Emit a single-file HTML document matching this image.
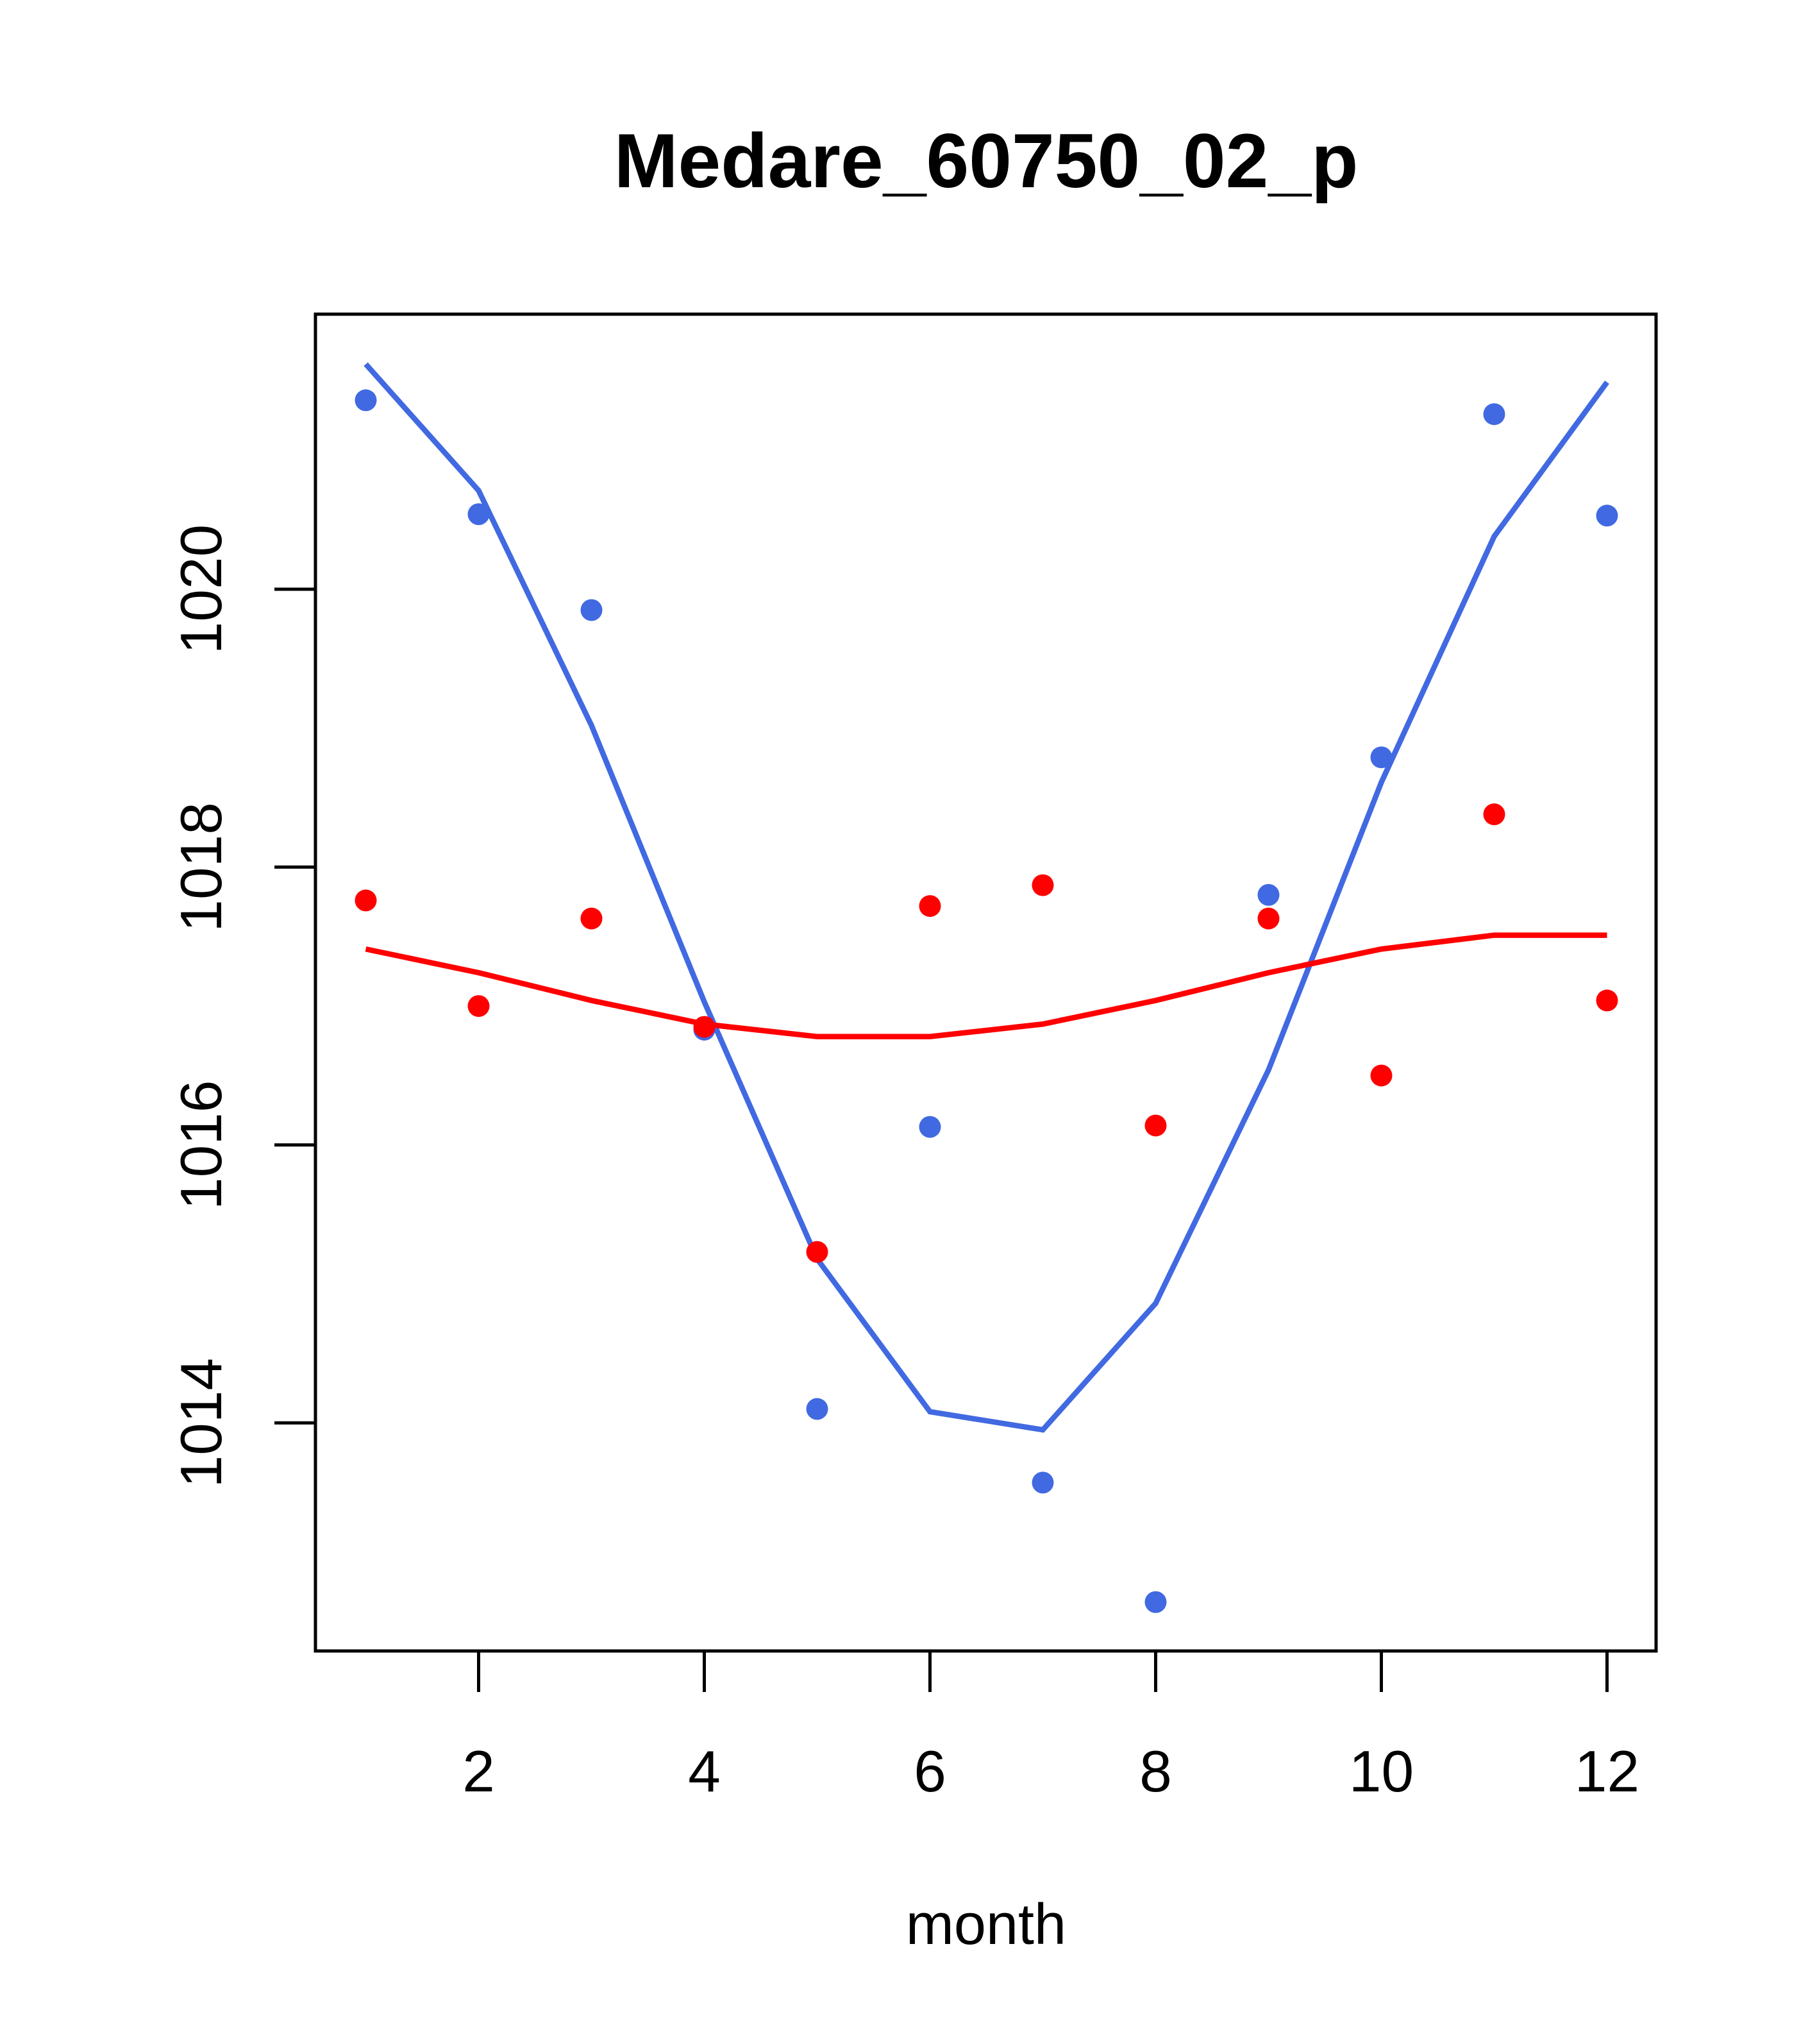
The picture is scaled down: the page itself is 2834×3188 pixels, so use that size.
<!DOCTYPE html>
<html><head><meta charset="utf-8"><style>body{margin:0;background:#fff}svg{display:block}</style></head>
<body>
<svg id="chart" width="2834" height="3188" viewBox="0 0 2834 3188" xmlns="http://www.w3.org/2000/svg" font-family="Liberation Sans, sans-serif">
<rect width="2834" height="3188" fill="#fff"/>
<text x="1538" y="292" font-size="120" font-weight="bold" text-anchor="middle">Medare_60750_02_p</text>
<rect x="492" y="490" width="2091" height="2085" fill="none" stroke="#000" stroke-width="5"/>
<text x="1538" y="3032" font-size="90" text-anchor="middle">month</text>
<g id="axes"></g><g id="marks"></g>
</svg>
<script>
const months=[1,2,3,4,5,6,7,8,9,10,11,12];
const bluePoints=[1021.36,1020.54,1019.85,1016.83,1014.10,1016.13,1013.57,1012.71,1017.80,1018.79,1021.26,1020.53];
const blueLine=[1021.62,1020.71,1019.02,1017.03,1015.18,1014.08,1013.95,1014.86,1016.54,1018.61,1020.38,1021.49];
const redPoints=[1017.76,1017.00,1017.63,1016.85,1015.23,1017.72,1017.87,1016.14,1017.63,1016.50,1018.38,1017.04];
const redLine=[1017.41,1017.24,1017.04,1016.87,1016.78,1016.78,1016.87,1017.04,1017.24,1017.41,1017.51,1017.51];
const xTicks=[2,4,6,8,10,12];
const yTicks=[1014,1016,1018,1020];
const NS='http://www.w3.org/2000/svg';
const xs=m=>746.5+(m-2)*176;
const ys=v=>919+(1020-v)*216.7;
const axes=document.getElementById('axes'),marks=document.getElementById('marks');
function mk(tag,attrs,parent){const e=document.createElementNS(NS,tag);for(const k in attrs)e.setAttribute(k,attrs[k]);parent.appendChild(e);return e;}
xTicks.forEach(t=>{
 const l=mk('line',{x1:xs(t),x2:xs(t),y1:2575,y2:2639,stroke:'#000','stroke-width':5},axes);
 
 
 const tx=mk('text',{x:xs(t),y:2794,'font-size':91,'text-anchor':'middle'},axes);tx.textContent=t;
 
 
});
yTicks.forEach(t=>{
 const l=mk('line',{x1:428,x2:492,y1:ys(t),y2:ys(t),stroke:'#000','stroke-width':5},axes);
 
 
 const tx=mk('text',{x:0,y:0,'font-size':91,'text-anchor':'middle',transform:`translate(345,${ys(t)}) rotate(-90)`},axes);tx.textContent=t;
 
 
});
function line(vals,color,name){
 const p=mk('polyline',{points:months.map((m,i)=>xs(m)+','+ys(vals[i])).join(' '),fill:'none',stroke:color,'stroke-width':8.5},marks);
 
 
}
function pts(vals,color,name){
 months.forEach((m,i)=>{const c=mk('circle',{cx:xs(m),cy:ys(vals[i]),r:17,fill:color},marks);
 
 });
}
line(blueLine,'#4169E1','blue-fit-line');
line(redLine,'#FF0000','red-fit-line');
pts(bluePoints,'#4169E1','blue-point');
pts(redPoints,'#FF0000','red-point');
</script>
</body></html>
